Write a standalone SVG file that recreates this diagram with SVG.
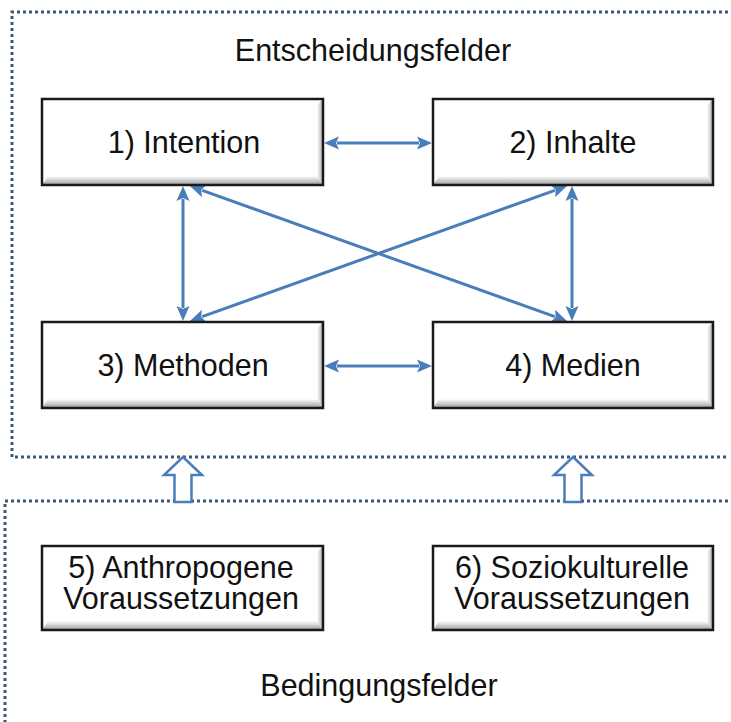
<svg xmlns="http://www.w3.org/2000/svg" width="731" height="722" viewBox="0 0 731 722">
  <style>
    .frame { fill: none; stroke: #41577a; stroke-width: 3; stroke-dasharray: 3 3; }
    .face { fill: #ffffff; }
    .edge { fill: none; stroke: #1a1a1a; stroke-width: 2.5; }
    .bevB { fill: url(#bevB); }
    .bevR { fill: url(#bevR); }
    .label { font-family: "Liberation Sans", Arial, sans-serif; font-size: 30.5px; fill: #111; text-anchor: middle; }
    .link { stroke: #4a7ebb; stroke-width: 3; fill: none; marker-start: url(#head); marker-end: url(#head); }
    .block { fill: #ffffff; stroke: #4a7ebb; stroke-width: 2.5; stroke-linejoin: miter; }
  </style>
  <defs>
    <linearGradient id="bevB" x1="0" y1="0" x2="0" y2="1">
      <stop offset="0" stop-color="#ffffff"/>
      <stop offset="1" stop-color="#9a9a9a"/>
    </linearGradient>
    <linearGradient id="bevR" x1="0" y1="0" x2="1" y2="0">
      <stop offset="0" stop-color="#ffffff"/>
      <stop offset="1" stop-color="#a8a8a8"/>
    </linearGradient>
    <marker id="head" viewBox="-1 -8 18 16" refX="2" refY="0" markerWidth="18" markerHeight="16" markerUnits="userSpaceOnUse" orient="auto-start-reverse">
      <path d="M0,-6.5 L15,0 L0,6.5 L3,0 z" fill="#4a7ebb"/>
    </marker>
  </defs>

  <!-- dotted field frames -->
  <g id="frames">
    <path class="frame" d="M728,12 H12 V457 H728"/>
    <path class="frame" d="M728,501 H5 V722"/>
  </g>

  <text class="label" x="373" y="61">Entscheidungsfelder</text>
  <text class="label" x="379" y="696">Bedingungsfelder</text>

  <!-- connectors -->
  <g id="connectors">
    <line class="link" x1="337" y1="143" x2="419" y2="143"/>
    <line class="link" x1="337" y1="366" x2="419" y2="366"/>
    <line class="link" x1="183" y1="199" x2="183" y2="308"/>
    <line class="link" x1="572" y1="199" x2="572" y2="308"/>
    <line class="link" x1="202.2" y1="190.4" x2="554.8" y2="316.6"/>
    <line class="link" x1="202.2" y1="316.6" x2="554.8" y2="190.4"/>
    <polygon class="block" points="183,457 202,475 191.5,475 191.5,502 174.5,502 174.5,475 164,475"/>
    <polygon class="block" points="573,457 592,475 581.5,475 581.5,502 564.5,502 564.5,475 554,475"/>
  </g>

  <!-- decision fields -->
  <g id="n1">
    <rect class="face" x="42" y="99" width="281" height="86"/>
    <polygon class="bevB" points="42,185 48,176 317,176 323,185"/>
    <polygon class="bevR" points="323,99 317,105 317,176 323,185"/>
    <rect class="edge" x="42" y="99" width="281" height="86"/>
    <text class="label" x="184" y="153">1) Intention</text>
  </g>
  <g id="n2">
    <rect class="face" x="433" y="99" width="280" height="86"/>
    <polygon class="bevB" points="433,185 439,176 707,176 713,185"/>
    <polygon class="bevR" points="713,99 707,105 707,176 713,185"/>
    <rect class="edge" x="433" y="99" width="280" height="86"/>
    <text class="label" x="573" y="153">2) Inhalte</text>
  </g>
  <g id="n3">
    <rect class="face" x="42" y="322" width="281" height="86"/>
    <polygon class="bevB" points="42,408 48,399 317,399 323,408"/>
    <polygon class="bevR" points="323,322 317,328 317,399 323,408"/>
    <rect class="edge" x="42" y="322" width="281" height="86"/>
    <text class="label" x="183" y="376">3) Methoden</text>
  </g>
  <g id="n4">
    <rect class="face" x="433" y="322" width="280" height="86"/>
    <polygon class="bevB" points="433,408 439,399 707,399 713,408"/>
    <polygon class="bevR" points="713,322 707,328 707,399 713,408"/>
    <rect class="edge" x="433" y="322" width="280" height="86"/>
    <text class="label" x="573" y="376">4) Medien</text>
  </g>

  <!-- condition fields -->
  <g id="n5">
    <rect class="face" x="42" y="546" width="281" height="84"/>
    <polygon class="bevB" points="42,630 48,621 317,621 323,630"/>
    <polygon class="bevR" points="323,546 317,552 317,621 323,630"/>
    <rect class="edge" x="42" y="546" width="281" height="84"/>
    <text class="label" x="181" y="578">5) Anthropogene</text>
    <text class="label" x="181" y="609">Voraussetzungen</text>
  </g>
  <g id="n6">
    <rect class="face" x="433" y="546" width="280" height="84"/>
    <polygon class="bevB" points="433,630 439,621 707,621 713,630"/>
    <polygon class="bevR" points="713,546 707,552 707,621 713,630"/>
    <rect class="edge" x="433" y="546" width="280" height="84"/>
    <text class="label" x="572" y="578">6) Soziokulturelle</text>
    <text class="label" x="572" y="609">Voraussetzungen</text>
  </g>
</svg>
